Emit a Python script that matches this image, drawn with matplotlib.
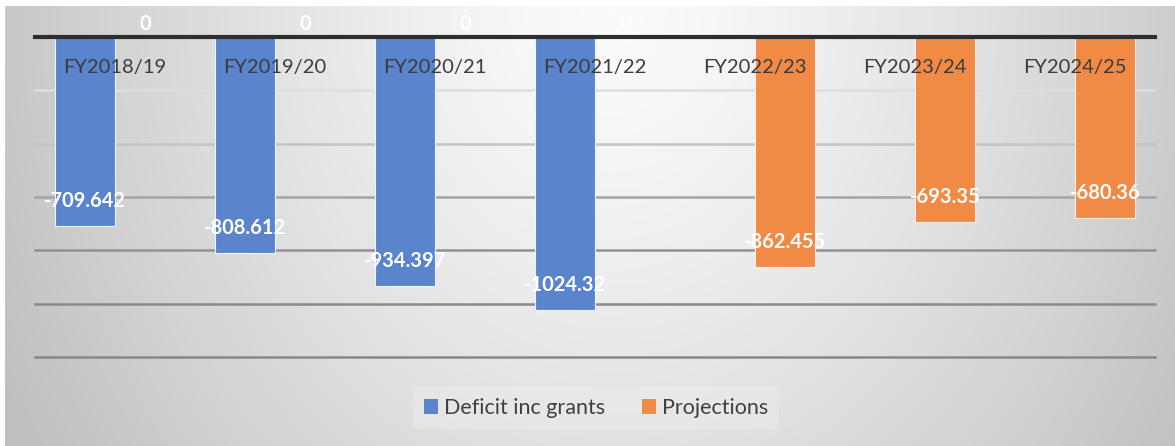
import numpy as np
import matplotlib
matplotlib.use("Agg")
import matplotlib.pyplot as plt
from matplotlib.patches import Patch

categories = ["FY2018/19", "FY2019/20", "FY2020/21", "FY2021/22", "FY2022/23", "FY2023/24", "FY2024/25"]
deficit = [-709.642, -808.612, -934.397, -1024.32, np.nan, np.nan, np.nan]
projections = [0, 0, 0, 0, -862.455, -693.35, -680.36]
deficit_labels = ["-709.642", "-808.612", "-934.397", "-1024.32", "", "", ""]
projection_labels = ["0", "0", "0", "0", "-862.455", "-693.35", "-680.36"]
grid_values = [-200, -400, -600, -800, -1000, -1200]

W, H = 1175, 446
fig = plt.figure(figsize=(W / 100, H / 100), dpi=100)
fig.patch.set_facecolor("white")

# gradient background
bg = fig.add_axes([5 / W, 0, 1 - 5 / W, 1 - 6 / H])
bg.set_axis_off()
xs = np.linspace(0, 1, 400)
ys = np.linspace(0, 1, 200)
X, Y = np.meshgrid(xs, ys)
d = np.sqrt(((X - 0.52) / 0.52) ** 2 + (Y / 1.7) ** 2)
v = np.clip(0.985 - 0.2 * d ** 1.3, 0.75, 1)
bg.imshow(np.dstack([v, v, v]), aspect="auto", extent=[0, 1, 1, 0], interpolation="bilinear")
bg.set_xlim(0, 1)
bg.set_ylim(1, 0)

ax = fig.add_axes([35 / W, 1 - 357 / H, 1120 / W, 320 / H])
ax.patch.set_alpha(0)
x = np.arange(len(categories))
bw = 0.375
blue = "#5a84cc"
orange = "#f08a45"
ax.bar(x - bw / 2, deficit, bw, color=blue, edgecolor="#eef3fb", linewidth=0.8, zorder=3)
ax.bar(x + bw / 2, projections, bw, color=orange, edgecolor="#fdf0e6", linewidth=0.8, zorder=3)

ax.set_ylim(-1200, 0)
ax.set_xlim(-0.5, len(categories) - 0.5)
grid_colors = ["#dedede", "#c4c4c4", "#a4a4a4", "#929292", "#8a8a8a", "#888888"]
for gv, gc in zip(grid_values, grid_colors):
    ax.axhline(gv, color=gc, linewidth=1.8, zorder=1, clip_on=False)
ax.axhline(0, color="#2e2e2e", linewidth=3, zorder=5, clip_on=False)
for s in ax.spines.values():
    s.set_visible(False)
ax.set_xticks([])
ax.set_yticks([])

lblfont = dict(family="Lato", size=14.5, color="#3c3c3c")
for xi, c in zip(x, categories):
    ax.annotate(c, (xi, 0), xytext=(0, -22), textcoords="offset points",
                ha="center", va="center", zorder=6, **lblfont)

vfont = dict(family="Lato", weight="bold", size=14.5, color="white")
for series, labels, off in [(deficit, deficit_labels, -bw / 2), (projections, projection_labels, bw / 2)]:
    for xi, val, lab in zip(x, series, labels):
        if not lab:
            continue
        if val == 0:
            ax.annotate(lab, (xi + off, 0), xytext=(0, 9), textcoords="offset points",
                        ha="center", va="center", zorder=6, annotation_clip=False, **vfont)
        else:
            ax.annotate(lab, (xi + off, val), xytext=(0, 18), textcoords="offset points",
                        ha="center", va="center", zorder=6, **vfont)

handles = [Patch(facecolor=blue, label="Deficit inc grants"),
           Patch(facecolor=orange, label="Projections")]
leg = fig.legend(handles=handles, loc="center", bbox_to_anchor=(596 / W, 1 - 408 / H), ncol=2,
                 frameon=True, prop=dict(family="Lato", size=15.5), labelcolor="#404040",
                 handlelength=0.65, handleheight=0.65, handletextpad=0.3, columnspacing=1.7,
                 borderpad=0.5)
leg.get_frame().set_facecolor("#ececec")
leg.get_frame().set_alpha(0.5)
leg.get_frame().set_edgecolor("none")

fig.savefig("out.png", dpi=100)
